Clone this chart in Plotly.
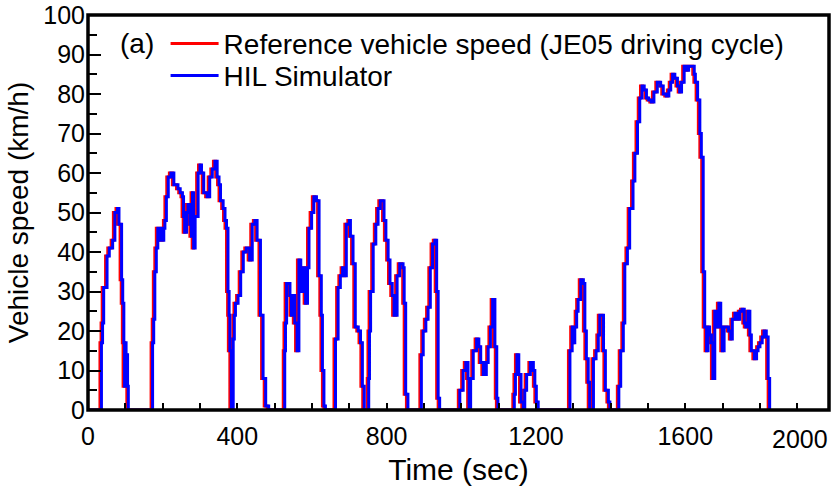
import plotly.graph_objects as go

# JE05 driving cycle, reference speed, step points
ref_time = [
    0, 32, 35, 38, 47, 53, 62, 68, 75, 79, 86, 89, 92, 94, 96, 98, 100, 102, 104,
    169, 172, 175, 179, 183, 187, 191, 195, 199, 202, 206, 211, 218, 226, 237, 243, 249, 252, 255, 260,
    264, 269, 273, 276, 279, 283, 287, 291, 296, 300, 306, 315, 322, 329, 336, 342, 347, 351, 358, 363,
    367, 371, 374, 376, 380,
    385, 388, 391, 398, 405, 412, 420, 429, 436, 443, 449, 458, 465, 472, 480,
    523, 525, 528, 537, 541, 546, 550, 556, 561, 566, 572, 579, 584, 588, 595, 601, 608, 615, 621, 624, 628, 632,
    659, 666, 672, 678, 684, 688, 696, 699, 706, 712, 720, 726, 731, 736,
    748, 750, 753, 760, 767, 773, 779, 789, 794, 800, 805, 811, 816, 824, 831, 840, 843, 847, 853,
    889, 894, 901, 907, 913, 919, 925, 930, 934, 938,
    992, 1001, 1008, 1014, 1017, 1021, 1028, 1037, 1043, 1048, 1055, 1063, 1068, 1074, 1080, 1086, 1091, 1094,
    1138, 1141, 1145, 1150, 1156, 1162, 1166, 1171, 1176, 1181, 1189, 1193, 1197, 1202,
    1287, 1293, 1297, 1300, 1305, 1309, 1316, 1323, 1327, 1331, 1336, 1340, 1350, 1357, 1363, 1367, 1374, 1377, 1382, 1390, 1394,
    1418, 1423, 1430, 1434, 1441, 1447, 1456, 1461, 1468, 1474, 1480, 1486, 1492, 1498, 1505, 1512, 1521, 1530, 1537, 1545,
    1552, 1557, 1562, 1568, 1575, 1581, 1586, 1593, 1599, 1605, 1613, 1620, 1623, 1629, 1635, 1639, 1644, 1648, 1653, 1657,
    1661, 1666, 1670, 1675, 1682, 1686, 1691, 1695, 1700, 1706, 1712, 1718, 1722, 1729, 1736, 1742, 1748, 1754, 1758, 1764,
    1769, 1773, 1781, 1787, 1791, 1796, 1802, 1807, 1813, 1818, 1822, 1829,
]
ref_speed = [
    0, 17, 22, 31, 39, 41, 43, 50, 51, 47, 33, 27, 17, 6, 17, 6, 14, 6, 0,
    17, 23, 35, 41, 46, 43, 46, 43, 46, 48, 54, 59, 60, 57, 56, 55, 54, 49, 45, 50,
    52, 47, 44, 55, 41, 49, 49, 60, 62, 60, 55, 54, 59, 61, 63, 59, 57, 53, 51, 48,
    46, 30, 24, 15, 0,
    18, 24, 27, 29, 35, 40, 41, 38, 47, 48, 43, 24, 8, 1, 0,
    15, 22, 32, 29, 24, 29, 22, 15, 38, 30, 36, 27, 36, 46, 50, 54, 53, 34, 24, 10, 1, 0,
    18, 31, 34, 36, 34, 47, 48, 44, 37, 21, 20, 17, 6, 0,
    8, 20, 30, 42, 47, 51, 53, 48, 43, 38, 32, 29, 24, 34, 37, 36, 27, 4, 0,
    14, 20, 23, 26, 36, 42, 43, 30, 3, 0,
    5, 10, 12, 8, 0, 8, 15, 18, 16, 12, 9, 12, 16, 21, 28, 16, 3, 0,
    4, 9, 14, 9, 2, 0, 5, 9, 9, 12, 10, 6, 2, 0,
    15, 21, 17, 21, 25, 28, 33, 32, 20, 13, 7, 0, 13, 15, 19, 24, 24, 15, 5, 2, 0,
    6, 15, 22, 37, 41, 51, 58, 65, 73, 79, 82, 81, 79, 78.5, 78, 80.5, 83, 82, 80, 79.5,
    81, 83, 85, 84, 82, 80.5, 83, 87, 86, 87, 87, 85, 83, 78.5, 70, 64, 35, 21, 15, 21,
    19, 17, 8, 25, 21, 27, 21, 15, 21, 21, 20, 18, 23, 24.5, 23, 25, 25.5, 22, 21, 25,
    19, 15, 13, 15, 16, 17, 18.5, 20, 18.5, 8, 0, 0,
]

# HIL simulator: follows the reference with a short lag
hil_time = [
    0, 36, 39, 42, 51, 57, 66, 72, 79, 83, 90, 93, 96, 98, 100, 102, 104, 106, 108,
    173, 176, 179, 183, 187, 191, 195, 199, 203, 206, 210, 215, 222, 230, 241, 247, 253, 256, 259, 264,
    268, 273, 277, 280, 283, 287, 291, 295, 300, 304, 310, 319, 326, 333, 340, 346, 351, 355, 362, 367,
    371, 375, 378, 380, 384,
    389, 392, 395, 402, 409, 416, 424, 433, 440, 447, 453, 462, 469, 476, 484,
    527, 529, 532, 541, 545, 550, 554, 560, 565, 570, 576, 583, 588, 592, 599, 605, 612, 619, 625, 628, 632, 636,
    663, 670, 676, 682, 688, 692, 700, 703, 710, 716, 724, 730, 735, 740,
    752, 754, 757, 764, 771, 777, 783, 793, 798, 804, 809, 815, 820, 828, 835, 844, 847, 851, 857,
    893, 898, 905, 911, 917, 923, 929, 934, 938, 942,
    996, 1005, 1012, 1018, 1021, 1025, 1032, 1041, 1047, 1052, 1059, 1067, 1072, 1078, 1084, 1090, 1095, 1098,
    1142, 1145, 1149, 1154, 1160, 1166, 1170, 1175, 1180, 1185, 1193, 1197, 1201, 1206,
    1291, 1297, 1301, 1304, 1309, 1313, 1320, 1327, 1331, 1335, 1340, 1344, 1354, 1361, 1367, 1371, 1378, 1381, 1386, 1394, 1398,
    1422, 1427, 1434, 1438, 1445, 1451, 1460, 1465, 1472, 1478, 1484, 1490, 1496, 1502, 1509, 1516, 1525, 1534, 1541, 1549,
    1556, 1561, 1566, 1572, 1579, 1585, 1590, 1597, 1603, 1609, 1617, 1624, 1627, 1633, 1639, 1643, 1648, 1652, 1657, 1661,
    1665, 1670, 1674, 1679, 1686, 1690, 1695, 1699, 1704, 1710, 1716, 1722, 1726, 1733, 1740, 1746, 1752, 1758, 1762, 1768,
    1773, 1777, 1785, 1791, 1795, 1800, 1806, 1811, 1817, 1822, 1826, 1830,
]
hil_speed = ref_speed

x_tick_vals = [0, 400, 800, 1200, 1600]
x_tick_text = ["0", "400", "800", "1200", "1600"]
y_tick_vals = [0, 10, 20, 30, 40, 50, 60, 70, 80, 90, 100]
y_tick_text = ["0", "10", "20", "30", "40", "50", "60", "70", "80", "90", "100"]

FONT = "Liberation Sans, Arial, sans-serif"

fig = go.Figure()
fig.add_trace(go.Scatter(
    x=ref_time, y=ref_speed, mode="lines", line_shape="hv",
    line=dict(color="#ff0000", width=3),
    name="Reference vehicle speed (JE05 driving cycle)", legend="legend",
))
fig.add_trace(go.Scatter(
    x=hil_time, y=hil_speed, mode="lines", line_shape="hv",
    line=dict(color="#0000ff", width=3),
    name="HIL Simulator", legend="legend2",
))

leg_common = dict(xanchor="left", yanchor="middle", bgcolor="rgba(0,0,0,0)",
                  font=dict(size=28, family=FONT), itemwidth=48, borderwidth=0)

fig.update_layout(
    width=834, height=493,
    margin=dict(l=88, r=5, t=15, b=83, autoexpand=False),
    paper_bgcolor="white", plot_bgcolor="white",
    font=dict(family=FONT, color="black"),
    showlegend=True,
    legend=dict(x=0.1047, y=0.927, **leg_common),
    legend2=dict(x=0.1047, y=0.846, **leg_common),
    xaxis=dict(
        range=[0, 1985], showgrid=False, zeroline=False, showline=False, automargin=False,
        tickmode="array", tickvals=x_tick_vals, ticktext=x_tick_text,
        ticks="inside", ticklen=7, tickwidth=2, tickcolor="black",
        minor=dict(tickmode="array", tickvals=list(range(100, 2000, 100)), ticks="inside", ticklen=7, tickwidth=2, tickcolor="black"),
        tickfont=dict(size=25, family=FONT), ticklabelstandoff=9,
        title=dict(text="Time (sec)", font=dict(size=30, family=FONT), standoff=9),
    ),
    yaxis=dict(
        range=[0, 100], showgrid=False, zeroline=False, showline=False, automargin=False,
        tickmode="array", tickvals=y_tick_vals, ticktext=y_tick_text,
        ticks="inside", ticklen=13, tickwidth=2, tickcolor="black",
        minor=dict(tickmode="array", tickvals=list(range(5, 100, 10)), ticks="inside", ticklen=9, tickwidth=2, tickcolor="black"),
        tickfont=dict(size=25, family=FONT), ticklabelstandoff=2,
        title=dict(text="Vehicle speed (km/h)", font=dict(size=28, family=FONT), standoff=6),
    ),
    shapes=[dict(type="rect", xref="paper", yref="paper", x0=0, x1=1, y0=0, y1=1,
                 line=dict(color="black", width=3.5), layer="above")],
    annotations=[
        dict(text="(a)", xref="paper", yref="paper", x=0.04, y=0.927, xanchor="left", yanchor="middle",
             showarrow=False, font=dict(size=28, family=FONT)),
        dict(text="2000", xref="paper", yref="paper", x=1.002, y=-0.073, xanchor="right", yanchor="middle",
             showarrow=False, font=dict(size=25, family=FONT)),
    ],
)

fig.write_html("out.html", config={"displayModeBar": False},
               post_script="document.body.style.margin='0px';document.body.style.overflow='hidden';")
